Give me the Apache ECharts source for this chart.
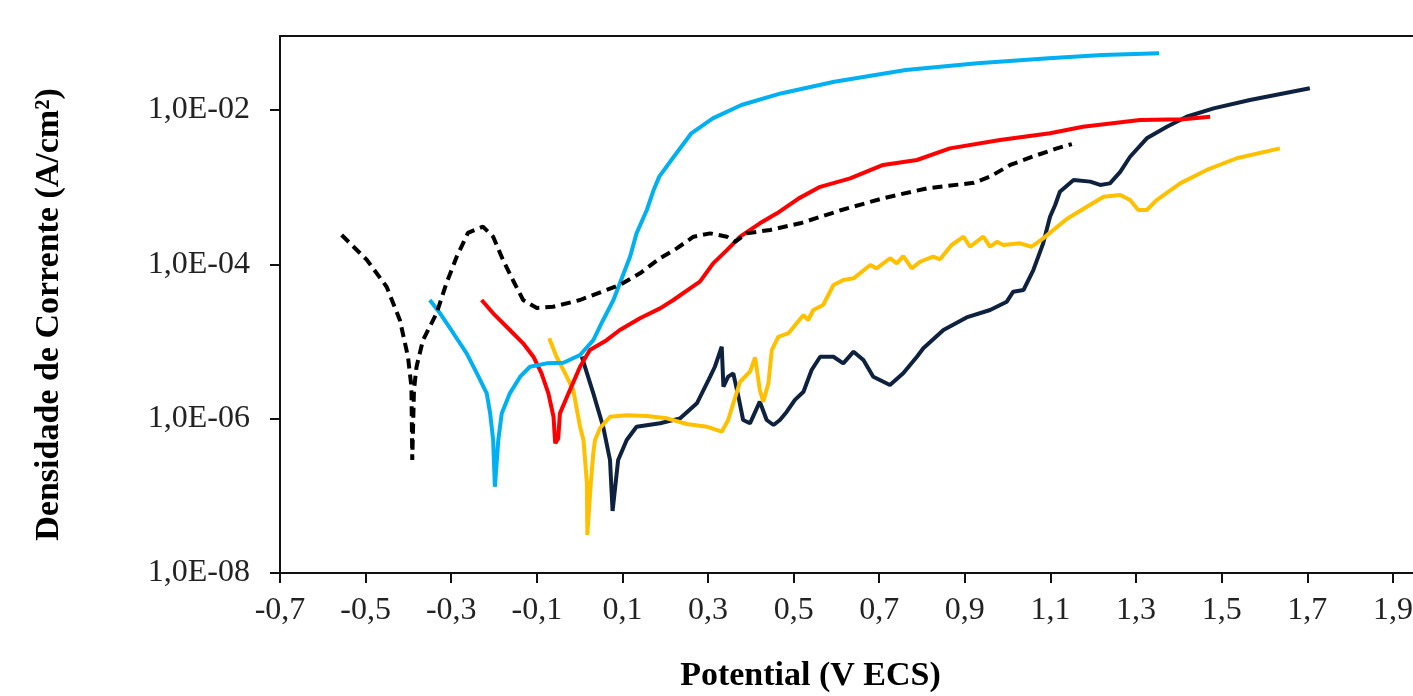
<!DOCTYPE html>
<html>
<head>
<meta charset="utf-8">
<title>Polarização</title>
<script src="https://cdn.jsdelivr.net/npm/echarts@6/dist/echarts.min.js"></script>
<style>
  html, body { margin: 0; padding: 0; background: #fff; }
  #chart { width: 1413px; height: 696px; }
</style>
</head>
<body>
<div id="chart"></div>
<script>
// potencial (V ECS), densidade de corrente (A/cm2)
const curveBlack = [
  [-0.556, 2.4e-4], [-0.497, 1.14e-4], [-0.451, 5.13e-5], [-0.420, 1.9e-5], [-0.401, 6.35e-6],
  [-0.393, 2.59e-6], [-0.391, 2.91e-7], [-0.387, 2.35e-6], [-0.381, 4.71e-6], [-0.366, 1.04e-5],
  [-0.334, 2.34e-5], [-0.311, 5.73e-5], [-0.287, 1.26e-4], [-0.261, 2.55e-4], [-0.226, 3.08e-4],
  [-0.202, 2.28e-4], [-0.179, 1.14e-4], [-0.156, 6.27e-5], [-0.132, 3.45e-5], [-0.100, 2.72e-5],
  [-0.062, 2.82e-5], [0.001, 3.45e-5], [0.063, 4.65e-5], [0.094, 5.4e-5], [0.141, 7.65e-5],
  [0.188, 1.2e-4], [0.227, 1.61e-4], [0.266, 2.28e-4], [0.305, 2.52e-4], [0.344, 2.28e-4],
  [0.363, 1.96e-4], [0.390, 2.52e-4], [0.445, 2.79e-4], [0.515, 3.4e-4], [0.612, 5.06e-4],
  [0.711, 7.23e-4], [0.812, 9.66e-4], [0.921, 1.14e-3], [0.959, 1.37e-3], [1.006, 1.94e-3],
  [1.062, 2.53e-3], [1.115, 3.18e-3], [1.150, 3.62e-3]
];

const curveBlue = [
  [-0.350, 3.45e-5], [-0.326, 2.32e-5], [-0.295, 1.28e-5], [-0.264, 7.03e-6], [-0.240, 3.87e-6],
  [-0.217, 2.13e-6], [-0.209, 1.17e-6], [-0.202, 5.29e-7], [-0.198, 1.31e-7], [-0.190, 5.29e-7],
  [-0.182, 1.17e-6], [-0.163, 2.13e-6], [-0.139, 3.5e-6], [-0.116, 4.71e-6], [-0.077, 5.21e-6],
  [-0.038, 5.31e-6], [0.001, 6.68e-6], [0.032, 1.04e-5], [0.055, 1.9e-5], [0.079, 3.45e-5],
  [0.094, 5.68e-5], [0.118, 1.26e-4], [0.133, 2.52e-4], [0.157, 5.06e-4], [0.172, 8.9e-4],
  [0.186, 1.37e-3], [0.220, 2.48e-3], [0.261, 4.99e-3], [0.311, 7.8e-3], [0.378, 1.16e-2],
  [0.470, 1.64e-2], [0.595, 2.32e-2], [0.762, 3.3e-2], [0.929, 4.03e-2], [1.096, 4.67e-2],
  [1.221, 5.16e-2], [1.354, 5.43e-2]
];

const curveRed = [
  [-0.229, 3.45e-5], [-0.202, 2.32e-5], [-0.163, 1.41e-5], [-0.132, 9.48e-6], [-0.108, 6.35e-6],
  [-0.089, 3.87e-6], [-0.073, 2.13e-6], [-0.061, 1.06e-6], [-0.057, 4.8e-7], [-0.050, 5.56e-7],
  [-0.046, 1.17e-6], [-0.026, 2.13e-6], [0.001, 4.71e-6], [0.024, 7.76e-6], [0.063, 1.04e-5],
  [0.094, 1.41e-5], [0.141, 2.0e-5], [0.188, 2.69e-5], [0.219, 3.45e-5], [0.258, 4.89e-5],
  [0.281, 5.96e-5], [0.312, 1.03e-4], [0.344, 1.53e-4], [0.375, 2.28e-4], [0.421, 3.4e-4],
  [0.461, 4.58e-4], [0.512, 7.16e-4], [0.562, 1.01e-3], [0.632, 1.3e-3], [0.709, 1.94e-3],
  [0.788, 2.25e-3], [0.865, 3.18e-3], [0.982, 4.08e-3], [1.099, 4.99e-3], [1.176, 6.07e-3],
  [1.309, 7.41e-3], [1.410, 7.57e-3], [1.473, 8.18e-3]
];

const curveOrange = [
  [-0.071, 1.1e-5], [-0.054, 6.35e-6], [-0.030, 3.5e-6], [-0.015, 2.35e-6], [0.001, 7.87e-7],
  [0.009, 5.29e-7], [0.017, 1.45e-7], [0.018, 3.11e-8], [0.026, 1.45e-7], [0.032, 3.59e-7],
  [0.036, 5.29e-7], [0.048, 7.57e-7], [0.071, 1.06e-6], [0.110, 1.11e-6], [0.157, 1.08e-6],
  [0.204, 1.01e-6], [0.250, 8.53e-7], [0.297, 7.87e-7], [0.332, 6.78e-7], [0.347, 9.61e-7],
  [0.359, 1.58e-6], [0.375, 3.01e-6], [0.398, 4.06e-6], [0.410, 6.21e-6], [0.421, 2.35e-6],
  [0.429, 1.66e-6], [0.441, 2.87e-6], [0.449, 7.76e-6], [0.464, 1.15e-5], [0.488, 1.28e-5],
  [0.507, 1.72e-5], [0.523, 2.2e-5], [0.534, 1.9e-5], [0.546, 2.56e-5], [0.569, 2.97e-5],
  [0.593, 5.4e-5], [0.616, 6.27e-5], [0.640, 6.59e-5], [0.679, 9.79e-5], [0.694, 8.87e-5],
  [0.725, 1.2e-4], [0.741, 1.03e-4], [0.756, 1.28e-4], [0.776, 8.87e-5], [0.795, 1.08e-4],
  [0.826, 1.26e-4], [0.842, 1.16e-4], [0.869, 1.78e-4], [0.897, 2.28e-4], [0.912, 1.69e-4],
  [0.943, 2.28e-4], [0.959, 1.69e-4], [0.975, 1.96e-4], [0.990, 1.78e-4], [1.029, 1.87e-4],
  [1.056, 1.69e-4], [1.083, 2.17e-4], [1.138, 3.87e-4], [1.185, 5.58e-4], [1.224, 7.52e-4],
  [1.263, 7.91e-4], [1.286, 6.81e-4], [1.305, 5.06e-4], [1.325, 5.06e-4], [1.348, 6.81e-4],
  [1.403, 1.12e-3], [1.465, 1.67e-3], [1.535, 2.37e-3], [1.636, 3.18e-3]
];

const curveNavy = [
  [0.005, 6.35e-6], [0.032, 2.13e-6], [0.055, 7.87e-7], [0.071, 2.91e-7], [0.077, 6.36e-8],
  [0.090, 2.91e-7], [0.110, 5.29e-7], [0.133, 7.87e-7], [0.188, 8.71e-7], [0.235, 1.01e-6],
  [0.274, 1.58e-6], [0.305, 3.5e-6], [0.316, 4.71e-6], [0.332, 8.55e-6], [0.336, 2.59e-6],
  [0.347, 3.5e-6], [0.359, 3.87e-6], [0.371, 1.93e-6], [0.382, 9.61e-7], [0.398, 8.71e-7],
  [0.421, 1.66e-6], [0.437, 9.61e-7], [0.453, 8.28e-7], [0.468, 9.61e-7], [0.484, 1.23e-6],
  [0.503, 1.75e-6], [0.523, 2.23e-6], [0.542, 4.27e-6], [0.562, 6.35e-6], [0.593, 6.35e-6],
  [0.616, 5.21e-6], [0.640, 7.38e-6], [0.663, 5.75e-6], [0.686, 3.5e-6], [0.725, 2.73e-6],
  [0.756, 3.87e-6], [0.788, 6.35e-6], [0.803, 8.16e-6], [0.850, 1.41e-5], [0.904, 2.05e-5],
  [0.959, 2.56e-5], [0.998, 3.28e-5], [1.013, 4.42e-5], [1.037, 4.65e-5], [1.060, 8.44e-5],
  [1.083, 1.87e-4], [1.099, 4.14e-4], [1.111, 5.87e-4], [1.122, 8.73e-4], [1.154, 1.24e-3],
  [1.193, 1.18e-3], [1.216, 1.07e-3], [1.239, 1.12e-3], [1.263, 1.58e-3], [1.286, 2.48e-3],
  [1.325, 4.3e-3], [1.372, 6.07e-3], [1.418, 8.18e-3], [1.481, 1.05e-2], [1.566, 1.35e-2],
  [1.706, 1.91e-2]
];

const yTickLabels = ['1,0E-08', '1,0E-06', '1,0E-04', '1,0E-02'];

const chart = echarts.init(document.getElementById('chart'));
const font = 'Liberation Serif';

const solid = (data, color) => ({
  type: 'line',
  data: data,
  showSymbol: false,
  symbol: 'none',
  animation: false,
  lineStyle: { color: color, width: 4 },
  z: 3
});

chart.setOption({
  backgroundColor: '#fff',
  animation: false,
  grid: {
    left: 280,
    top: 36,
    right: 0,
    bottom: 123,
    outerBoundsMode: 'none'
  },
  xAxis: [
    {
      type: 'value',
      min: -0.7,
      max: 1.947,
      interval: 0.2,
      name: 'Potential (V ECS)',
      nameLocation: 'middle',
      nameGap: 86,
      nameTextStyle: {
        fontFamily: font, fontWeight: 'bold', fontSize: 34, color: '#000',
        padding: [0, 72, 0, 0]
      },
      axisLine: { onZero: false, lineStyle: { color: '#111', width: 2 } },
      axisTick: { length: 10, lineStyle: { color: '#111', width: 2 } },
      splitLine: { show: false },
      axisLabel: {
        fontFamily: font, fontSize: 32, color: '#222', margin: 22,
        showMaxLabel: false,
        formatter: v => v.toFixed(1).replace('.', ',')
      }
    },
    {
      // linha superior da moldura
      type: 'value',
      position: 'top',
      min: -0.7,
      max: 1.947,
      axisLine: { show: true, onZero: false, lineStyle: { color: '#111', width: 2 } },
      axisTick: { show: false },
      axisLabel: { show: false },
      splitLine: { show: false }
    }
  ],
  yAxis: {
    type: 'log',
    logBase: 100,
    min: 1e-8,
    max: 0.091,
    name: 'Densidade de Corrente (A/cm²)',
    nameLocation: 'middle',
    nameGap: 214,
    nameTextStyle: {
      fontFamily: font, fontWeight: 'bold', fontSize: 34, color: '#000',
      padding: [0, 20, 0, 0]
    },
    axisLine: { onZero: false, lineStyle: { color: '#111', width: 2 } },
    axisTick: { length: 10, lineStyle: { color: '#111', width: 2 } },
    splitLine: { show: false },
    minorTick: { show: false },
    axisLabel: {
      fontFamily: font, fontSize: 32, color: '#222', margin: 30,
      showMaxLabel: false,
      formatter: v => {
        const e = Math.round(Math.log10(v));
        return yTickLabels[(e + 8) / 2] || '';
      }
    }
  },
  series: [
    solid(curveNavy, '#0e2240'),
    solid(curveOrange, '#ffc000'),
    solid(curveRed, '#ff0000'),
    solid(curveBlue, '#00b0f0'),
    {
      type: 'line',
      data: curveBlack,
      showSymbol: false,
      symbol: 'none',
      animation: false,
      lineStyle: { color: '#000', width: 4, type: [10, 6] },
      z: 4
    }
  ]
});
</script>
</body>
</html>
